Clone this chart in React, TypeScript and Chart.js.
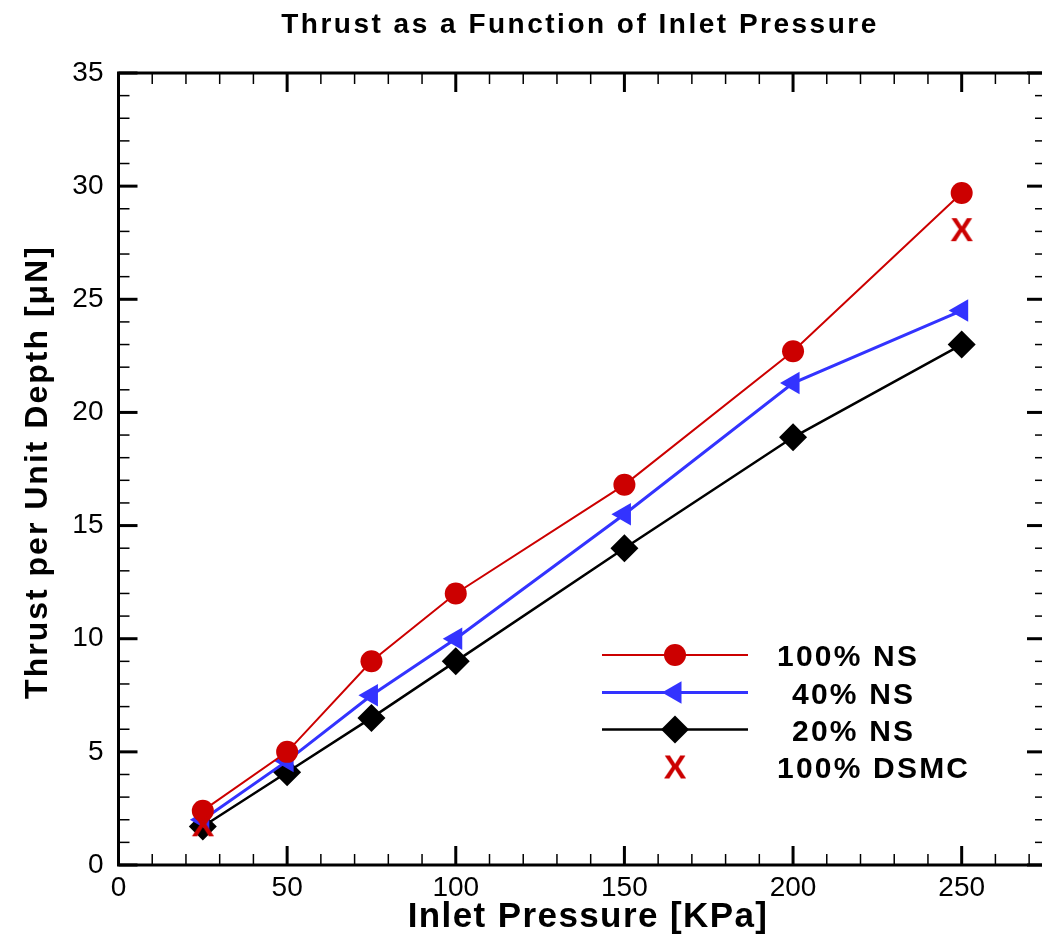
import React, { useEffect, useRef } from 'react';
import { Chart, registerables } from 'chart.js';

Chart.register(...registerables);

// ---- data ----
const pressures = [25, 50, 75, 100, 150, 200, 250];
const ns100 = [2.4, 5.0, 9.0, 12.0, 16.8, 22.7, 29.7];
const ns40 = [2.0, 4.6, 7.5, 10.0, 15.5, 21.3, 24.5];
const ns20 = [1.7, 4.1, 6.5, 9.0, 14.0, 18.9, 23.0];
const dsmcPressures = [25, 250];
const dsmc100 = [1.8, 28.1];

const seriesLabels = ['100% NS', '40% NS', '20% NS', '100% DSMC'];
const titleText = 'Thrust as a Function of Inlet Pressure';
const xTitle = 'Inlet Pressure [KPa]';
const yTitle = 'Thrust per Unit Depth [\u03BCN]';

const X_MIN = 0;
const X_MAX = 275;
const X_MAJOR = 50;
const X_MINOR = 10;
const Y_MIN = 0;
const Y_MAX = 35;
const Y_MAJOR = 5;
const Y_MINOR = 1;

// ---- styles ----
const RED = 'rgb(204,0,0)';
const BLUE = 'rgb(51,51,255)';
const BLACK = '#000000';
const FONT = '"Liberation Sans", Arial, Helvetica, sans-serif';

const CANVAS_W = 1060;
const CANVAS_H = 943;

function makeXImage(): HTMLCanvasElement {
  const c = document.createElement('canvas');
  c.width = 28;
  c.height = 30;
  const g = c.getContext('2d')!;
  g.fillStyle = RED;
  g.font = `bold 34px ${FONT}`;
  g.textAlign = 'center';
  g.textBaseline = 'alphabetic';
  g.fillText('X', 14, 27);
  return c;
}

function toXY(xs: number[], ys: number[]) {
  return xs.map((x, i) => ({ x, y: ys[i] }));
}

function setLS(ctx: CanvasRenderingContext2D, px: number) {
  try {
    (ctx as any).letterSpacing = `${px}px`;
  } catch (e) {
    /* ignore */
  }
}

export default function App() {
  const ref = useRef<HTMLCanvasElement | null>(null);

  useEffect(() => {
    document.body.style.margin = '0';
    const canvas = ref.current;
    if (!canvas) return;
    const xImg = makeXImage();

    const framePlugin = {
      id: 'frameAndText',
      afterDatasetsDraw(chart: any) {
        const { ctx, chartArea: a } = chart;
        const xs = chart.scales.x;
        const ys = chart.scales.y;
        ctx.save();
        ctx.strokeStyle = BLACK;
        ctx.lineCap = 'butt';
        const seg = (x1: number, y1: number, x2: number, y2: number) => {
          ctx.beginPath();
          ctx.moveTo(x1, y1);
          ctx.lineTo(x2, y2);
          ctx.stroke();
        };
        // x ticks (bottom and top, inward)
        for (let v = X_MIN; v <= X_MAX + 1e-9; v += X_MINOR) {
          const major = Math.abs(v % X_MAJOR) < 1e-9;
          const len = major ? 19 : 11;
          ctx.lineWidth = major ? 3 : 1.5;
          const px = xs.getPixelForValue(v);
          seg(px, a.bottom, px, a.bottom - len);
          seg(px, a.top, px, a.top + len);
        }
        for (let v = Y_MIN; v <= Y_MAX + 1e-9; v += Y_MINOR) {
          const major = Math.abs(v % Y_MAJOR) < 1e-9;
          const len = major ? 19 : 11;
          ctx.lineWidth = major ? 3 : 1.5;
          const py = ys.getPixelForValue(v);
          seg(a.left, py, a.left + len, py);
          seg(a.right, py, a.right - len, py);
        }
        // frame
        ctx.lineWidth = 3;
        ctx.strokeRect(a.left, a.top, a.right - a.left, a.bottom - a.top);

        // titles
        ctx.fillStyle = BLACK;
        ctx.textBaseline = 'alphabetic';
        ctx.textAlign = 'center';
        ctx.font = `bold 28px ${FONT}`;
        setLS(ctx, 2.5);
        ctx.fillText(titleText, 580, 33);

        ctx.font = `bold 35px ${FONT}`;
        setLS(ctx, 1.4);
        ctx.fillText(xTitle, 588, 927);

        ctx.save();
        ctx.translate(47, 472);
        ctx.rotate(-Math.PI / 2);
        ctx.font = `bold 32px ${FONT}`;
        setLS(ctx, 2);
        ctx.fillText(yTitle, 0, 0);
        ctx.restore();

        // legend
        const rows = [655, 692.5, 729.5, 766.5];
        const lineX1 = 602;
        const lineX2 = 748;
        const mx = 675;
        const textX = [777, 792, 792, 777];
        // row 0: red circle
        ctx.strokeStyle = RED;
        ctx.lineWidth = 2;
        seg(lineX1, rows[0], lineX2, rows[0]);
        ctx.fillStyle = RED;
        ctx.beginPath();
        ctx.arc(mx, rows[0], 11, 0, Math.PI * 2);
        ctx.fill();
        // row 1: blue triangle left
        ctx.strokeStyle = BLUE;
        ctx.lineWidth = 3;
        seg(lineX1, rows[1], lineX2, rows[1]);
        ctx.fillStyle = BLUE;
        ctx.beginPath();
        const r = 13;
        ctx.moveTo(mx - r, rows[1]);
        ctx.lineTo(mx + r / 2, rows[1] - (r * Math.sqrt(3)) / 2);
        ctx.lineTo(mx + r / 2, rows[1] + (r * Math.sqrt(3)) / 2);
        ctx.closePath();
        ctx.fill();
        // row 2: black diamond
        ctx.strokeStyle = BLACK;
        ctx.lineWidth = 2.5;
        seg(lineX1, rows[2], lineX2, rows[2]);
        ctx.fillStyle = BLACK;
        ctx.beginPath();
        const d = 14;
        ctx.moveTo(mx, rows[2] - d);
        ctx.lineTo(mx + d, rows[2]);
        ctx.lineTo(mx, rows[2] + d);
        ctx.lineTo(mx - d, rows[2]);
        ctx.closePath();
        ctx.fill();
        // row 3: X
        ctx.drawImage(xImg, mx - xImg.width / 2, rows[3] - xImg.height / 2);

        ctx.fillStyle = BLACK;
        ctx.textAlign = 'left';
        ctx.font = `bold 30px ${FONT}`;
        setLS(ctx, 2.2);
        seriesLabels.forEach((lab, i) => {
          ctx.fillText(lab, textX[i], rows[i] + 11);
        });
        setLS(ctx, 0);
        ctx.restore();
      },
    };

    const chart = new Chart(canvas, {
      type: 'line',
      data: {
        datasets: [
          {
            label: seriesLabels[3],
            data: toXY(dsmcPressures, dsmc100),
            showLine: false,
            pointStyle: xImg as any,
            pointRadius: 12,
            borderColor: RED,
            backgroundColor: RED,
          },
          {
            label: seriesLabels[0],
            data: toXY(pressures, ns100),
            borderColor: RED,
            backgroundColor: RED,
            borderWidth: 2,
            pointStyle: 'circle',
            pointRadius: 11,
            pointBorderWidth: 0,
            tension: 0,
          },
          {
            label: seriesLabels[1],
            data: toXY(pressures, ns40),
            borderColor: BLUE,
            backgroundColor: BLUE,
            borderWidth: 3,
            pointStyle: 'triangle',
            pointRotation: -90,
            pointRadius: 13,
            pointBorderWidth: 0,
            tension: 0,
          },
          {
            label: seriesLabels[2],
            data: toXY(pressures, ns20),
            borderColor: BLACK,
            backgroundColor: BLACK,
            borderWidth: 2.5,
            pointStyle: 'rectRot',
            pointRadius: 14,
            pointBorderWidth: 0,
            tension: 0,
          },
        ],
      },
      options: {
        responsive: false,
        animation: false,
        devicePixelRatio: 1,
        layout: { padding: { left: 0, top: 73, right: CANVAS_W - 1047.5, bottom: 0 } },
        plugins: {
          legend: { display: false },
          title: { display: false },
          tooltip: { enabled: false },
        },
        elements: { point: { hoverRadius: 0 } },
        scales: {
          x: {
            type: 'linear',
            min: X_MIN,
            max: X_MAX,
            grid: { display: false, drawTicks: false },
            border: { display: false },
            ticks: {
              stepSize: X_MAJOR,
              color: BLACK,
              padding: 6,
              maxRotation: 0,
              font: { family: FONT, size: 28, weight: 'normal' },
            },
            afterBuildTicks: (scale: any) => {
              scale.ticks = scale.ticks.filter((t: any) => Math.abs(t.value % X_MAJOR) < 1e-9);
            },
            afterFit: (scale: any) => {
              scale.height = CANVAS_H - 865;
            },
          },
          y: {
            type: 'linear',
            min: Y_MIN,
            max: Y_MAX,
            grid: { display: false, drawTicks: false },
            border: { display: false },
            ticks: {
              stepSize: Y_MAJOR,
              color: BLACK,
              padding: 15,
              font: { family: FONT, size: 28, weight: 'normal' },
            },
            afterFit: (scale: any) => {
              scale.width = 118.5;
            },
          },
        },
      },
      plugins: [framePlugin],
    } as any);

    return () => {
      chart.destroy();
    };
  }, []);

  return (
    <div style={{ width: 1042, height: 943, overflow: 'hidden', position: 'relative', background: '#fff' }}>
      <canvas ref={ref} width={CANVAS_W} height={CANVAS_H} style={{ width: CANVAS_W, height: CANVAS_H, display: 'block' }} />
    </div>
  );
}
